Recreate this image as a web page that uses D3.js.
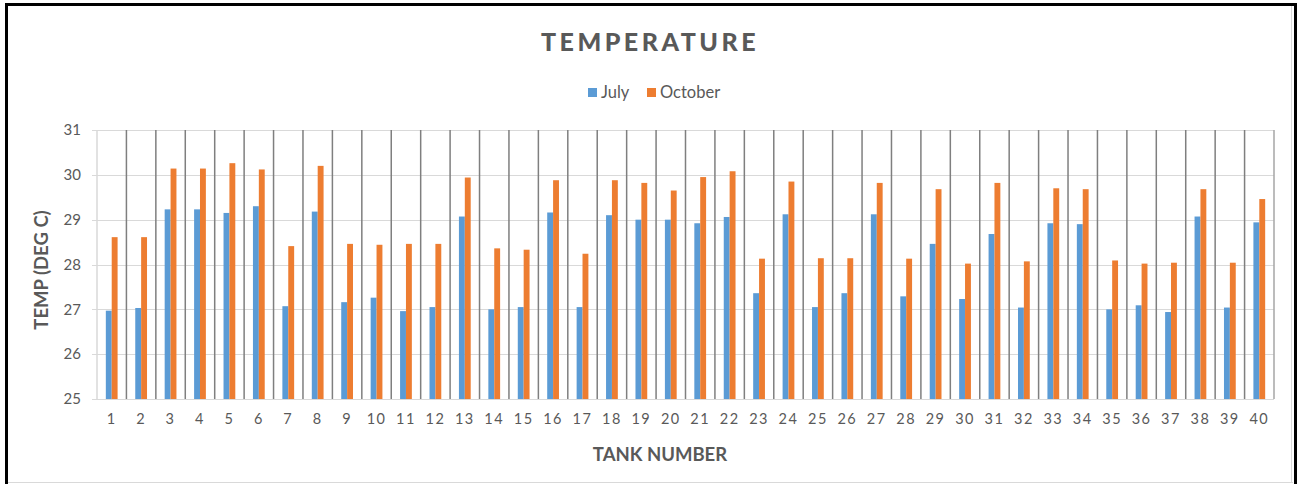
<!DOCTYPE html>
<html lang="en">
<head>
<meta charset="utf-8">
<title>Temperature</title>
<script src="https://cdn.jsdelivr.net/npm/d3@7"></script>
<style>
  body { margin: 0; background: #fff; }
  svg text { font-family: Lato, "Open Sans", sans-serif; fill: #595959; }
  .grid line { stroke: #d9d9d9; stroke-width: 1; }
  .sep { stroke: #7f7f7f; stroke-width: 1.5; }
</style>
</head>
<body>
<svg id="chart" width="1305" height="484"></svg>
<script>
// tank numbers 1..40
var tanks = ["1","2","3","4","5","6","7","8","9","10","11","12","13","14","15","16","17","18","19","20",
             "21","22","23","24","25","26","27","28","29","30","31","32","33","34","35","36","37","38","39","40"];

var july = [26.97,27.03,29.23,29.23,29.15,29.30,27.07,29.18,27.16,27.26,
            26.96,27.05,29.07,27.00,27.05,29.16,27.05,29.10,29.00,29.00,
            28.92,29.06,27.36,29.12,27.05,27.36,29.12,27.29,28.46,27.23,
            28.68,27.04,28.92,28.90,27.00,27.09,26.94,29.07,27.04,28.94];

var october = [28.61,28.61,30.14,30.14,30.26,30.12,28.41,30.20,28.46,28.44,
               28.46,28.46,29.94,28.36,28.33,29.88,28.24,29.88,29.82,29.65,
               29.95,30.08,28.13,29.85,28.14,28.14,29.82,28.13,29.68,28.02,
               29.82,28.07,29.70,29.68,28.09,28.02,28.04,29.68,28.04,29.46];

var seriesNames = ["July", "October"];
var seriesColors = ["#5b9bd5", "#ed7d31"];
var yTicks = [25, 26, 27, 28, 29, 30, 31];

var rows = tanks.map(function(t, i) {
  return { tank: t, values: [july[i], october[i]] };
});

var svg = d3.select("#chart");
var plotLeft = 97, plotRight = 1274, plotTop = 130, plotBottom = 399;

var x = d3.scaleBand().domain(tanks).range([plotLeft, plotRight]).padding(0);
var x1 = d3.scaleBand().domain(seriesNames)
    .range([x.bandwidth() * 0.3, x.bandwidth() * 0.7]).padding(0);
var y = d3.scaleLinear().domain([25, 31]).range([plotBottom, plotTop]);

// outer frame
svg.append("rect").attr("x", 0).attr("y", 0).attr("width", 1305).attr("height", 484).attr("fill", "#fff");
svg.append("line").attr("x1", 8).attr("x2", 1293).attr("y1", 482.5).attr("y2", 482.5).attr("stroke", "#d9d9d9");
svg.append("line").attr("x1", 1291.5).attr("x2", 1291.5).attr("y1", 6).attr("y2", 483).attr("stroke", "#d9d9d9");
svg.append("path")
    .attr("d", "M6.5,484 L6.5,4.5 L1295.5,4.5 L1295.5,484")
    .attr("fill", "none").attr("stroke", "#000").attr("stroke-width", 3);

// horizontal gridlines
svg.append("g").attr("class", "grid")
  .selectAll("line").data(yTicks).join("line")
    .attr("x1", plotLeft - 5).attr("x2", plotRight)
    .attr("y1", function(d) { return Math.round(y(d)) + 0.5; })
    .attr("y2", function(d) { return Math.round(y(d)) + 0.5; });

// vertical category separators
var bounds = tanks.slice(1).map(function(t) { return x(t); });
svg.append("g").selectAll("line").data(bounds).join("line")
    .attr("class", "sep")
    .attr("x1", function(d) { return d; }).attr("x2", function(d) { return d; })
    .attr("y1", plotTop).attr("y2", plotBottom);
svg.append("line").attr("x1", plotLeft).attr("x2", plotLeft).attr("y1", plotTop).attr("y2", plotBottom)
    .attr("stroke", "#d9d9d9").attr("stroke-width", 1.5);
svg.append("line").attr("x1", plotRight).attr("x2", plotRight).attr("y1", plotTop).attr("y2", plotBottom)
    .attr("stroke", "#a6a6a6").attr("stroke-width", 1.5);

// bars
var groups = svg.append("g").selectAll("g").data(rows).join("g")
    .attr("transform", function(d) { return "translate(" + x(d.tank) + ",0)"; });
groups.selectAll("rect").data(function(d) {
    return d.values.map(function(v, i) { return { name: seriesNames[i], value: v, color: seriesColors[i] }; });
  }).join("rect")
    .attr("x", function(d) { return x1(d.name); })
    .attr("width", x1.bandwidth())
    .attr("y", function(d) { return y(d.value); })
    .attr("height", function(d) { return y(25) - y(d.value); })
    .attr("fill", function(d) { return d.color; });

// axes
var yAxis = svg.append("g").attr("transform", "translate(" + (plotLeft - 5) + ",0)")
    .call(d3.axisLeft(y).tickValues(yTicks).tickFormat(d3.format("d")).tickSize(0).tickPadding(11));
yAxis.select(".domain").remove();
yAxis.selectAll("text").style("font-size", "15px").attr("fill", "#595959");

var xAxis = svg.append("g").attr("transform", "translate(0," + plotBottom + ")")
    .call(d3.axisBottom(x).tickSize(0).tickPadding(15));
xAxis.select(".domain").remove();
xAxis.selectAll("text").style("font-size", "14.5px").style("letter-spacing", "1.5px").attr("fill", "#595959");

// title
svg.append("text").attr("x", 650).attr("y", 51).attr("text-anchor", "middle")
    .style("font-size", "25px").style("font-weight", "900").style("letter-spacing", "3.5px")
    .text("TEMPERATURE");

// legend
var legend = svg.append("g").attr("transform", "translate(588,88)");
var lx = [0, 59];
seriesNames.forEach(function(n, i) {
  legend.append("rect").attr("x", lx[i]).attr("y", 0).attr("width", 9).attr("height", 9).attr("fill", seriesColors[i]);
  legend.append("text").attr("x", lx[i] + 13).attr("y", 10).style("font-size", "16.5px").text(n);
});

// axis titles
svg.append("text").attr("transform", "translate(48,270) rotate(-90)").attr("text-anchor", "middle")
    .style("font-size", "18.5px").style("font-weight", "bold").text("TEMP (DEG C)");
svg.append("text").attr("x", 660).attr("y", 461).attr("text-anchor", "middle")
    .style("font-size", "18.5px").style("font-weight", "bold").text("TANK NUMBER");
</script>
</body>
</html>
